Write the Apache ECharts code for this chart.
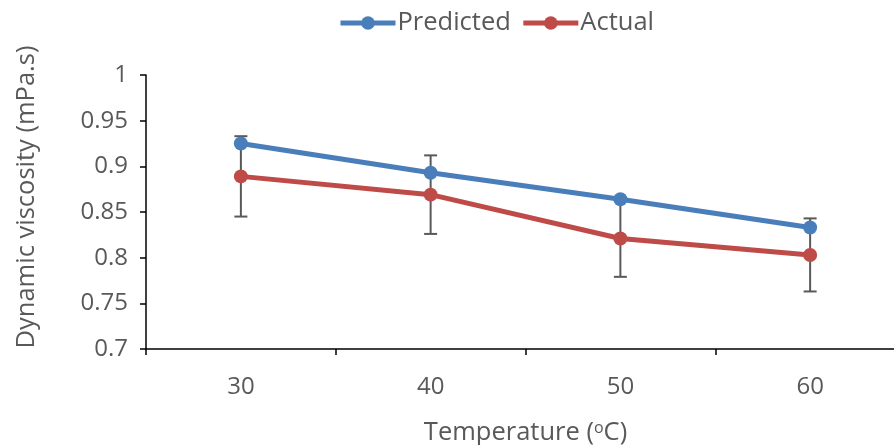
<!DOCTYPE html>
<html>
<head>
<meta charset="utf-8">
<script src="https://cdn.jsdelivr.net/npm/echarts@6/dist/echarts.min.js"></script>
<style>
  html, body { margin: 0; padding: 0; background: #fff; }
  #chart { width: 894px; height: 445px; }
</style>
</head>
<body>
<div id="chart"></div>
<script>
// values
const temperatures = ['30', '40', '50', '60'];
const predicted = [0.925, 0.893, 0.864, 0.833];
const actual = [0.889, 0.869, 0.821, 0.803];
const actualError = [0.044, 0.043, 0.042, 0.040];

const FONT = 'Open Sans';
const TEXT_COLOR = '#595959';
const FS = 24;
const NAME_FS = 25.5;

const chart = echarts.init(document.getElementById('chart'));

// error bar rows: [category index, low, high]
const errorData = actual.map(function (v, i) {
    return [i, v - actualError[i], v + actualError[i]];
});

const option = {
    animation: false,
    legend: {
        top: 5,
        left: 333,
        itemWidth: 55,
        itemHeight: 17,
        itemGap: 10,
        lineStyle: { width: 5 },
        textStyle: { fontFamily: FONT, fontSize: NAME_FS, color: TEXT_COLOR, padding: [0, 0, 0, -3] },
        data: ['Predicted', 'Actual']
    },
    // the plot runs a little past the right edge of the picture
    grid: { left: 146, right: -11, top: 75, bottom: 96, outerBoundsMode: 'none' },
    xAxis: {
        type: 'category',
        data: temperatures,
        boundaryGap: true,
        name: '{a|Temperature (}{sup|o}{a|C)}',
        nameLocation: 'middle',
        nameGap: 71,
        nameTextStyle: {
            fontFamily: FONT, fontSize: NAME_FS, color: TEXT_COLOR,
            rich: {
                a: { fontFamily: FONT, fontSize: NAME_FS, color: TEXT_COLOR },
                sup: { fontFamily: FONT, fontSize: 16, color: TEXT_COLOR, verticalAlign: 'top', padding: [0, 0, 8, 0] }
            }
        },
        axisLine: { lineStyle: { color: '#000', width: 1.5 } },
        axisTick: { show: true, length: 6, lineStyle: { color: '#000', width: 1.5 } },
        axisLabel: { fontFamily: FONT, fontSize: FS, color: TEXT_COLOR, margin: 26 },
        splitLine: { show: false }
    },
    yAxis: {
        type: 'value',
        min: 0.7,
        max: 1,
        interval: 0.05,
        name: 'Dynamic viscosity (mPa.s)',
        nameLocation: 'middle',
        nameGap: 106,
        nameTextStyle: { fontFamily: FONT, fontSize: NAME_FS, color: TEXT_COLOR, padding: [0, 0, 0, 30] },
        axisLine: { show: true, lineStyle: { color: '#000', width: 1.5 } },
        axisTick: { show: true, length: 6, lineStyle: { color: '#000', width: 1.5 } },
        axisLabel: {
            fontFamily: FONT, fontSize: FS, color: TEXT_COLOR, margin: 18,
            formatter: function (v) { return String(Math.round(v * 100) / 100); }
        },
        splitLine: { show: false }
    },
    series: [
        {
            name: 'Actual',
            type: 'line',
            data: actual,
            symbol: 'circle',
            symbolSize: 14,
            lineStyle: { color: '#be4b48', width: 5 },
            itemStyle: { color: '#be4b48' },
            z: 2
        },
        {
            name: 'Predicted',
            type: 'line',
            data: predicted,
            symbol: 'circle',
            symbolSize: 14,
            lineStyle: { color: '#4a7ebb', width: 5 },
            itemStyle: { color: '#4a7ebb' },
            z: 3
        },
        {
            name: 'errors',
            type: 'custom',
            data: errorData,
            z: 1,
            renderItem: function (params, api) {
                const x = api.value(0);
                const low = api.coord([x, api.value(1)]);
                const high = api.coord([x, api.value(2)]);
                const half = 6.5;
                const style = { stroke: '#595959', lineWidth: 2 };
                return {
                    type: 'group',
                    children: [
                        { type: 'line', shape: { x1: low[0], y1: low[1], x2: high[0], y2: high[1] }, style: style },
                        { type: 'line', shape: { x1: low[0] - half, y1: low[1], x2: low[0] + half, y2: low[1] }, style: style },
                        { type: 'line', shape: { x1: high[0] - half, y1: high[1], x2: high[0] + half, y2: high[1] }, style: style }
                    ]
                };
            }
        }
    ]
};

chart.setOption(option);
</script>
</body>
</html>
